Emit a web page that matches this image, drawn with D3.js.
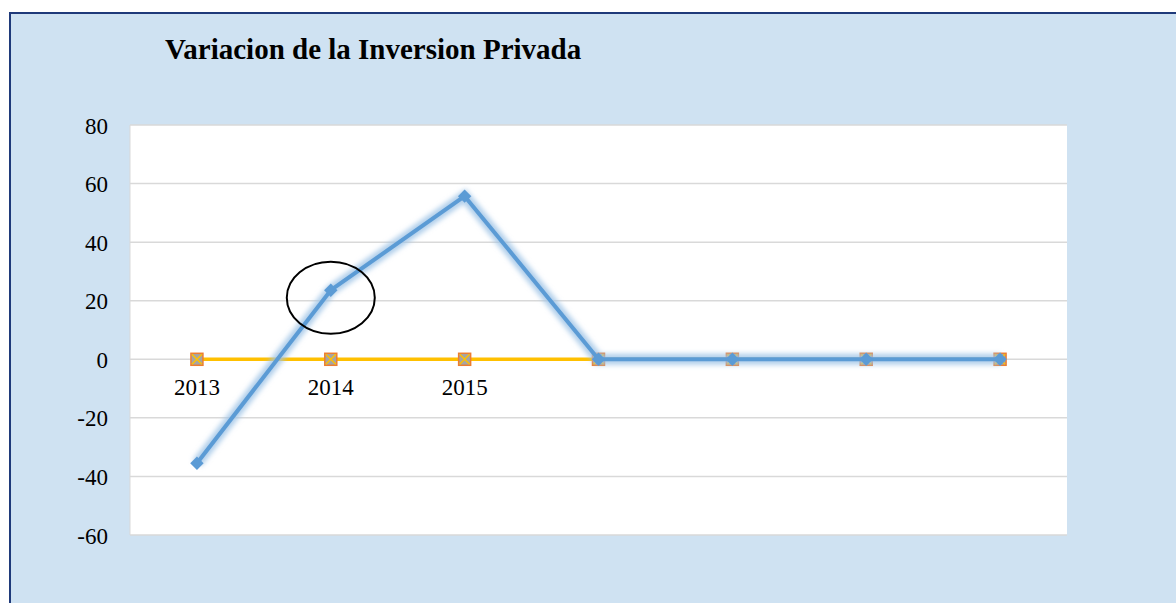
<!DOCTYPE html>
<html><head><meta charset="utf-8">
<script src="https://cdn.jsdelivr.net/npm/d3@7"></script>
<style>html,body{margin:0;padding:0;background:#fff;overflow:hidden}</style>
</head><body>
<svg id="c" width="1176" height="603"></svg>
<script>
const categories = ["2013","2014","2015","","","",""];
const variacion = [-35.5, 23.6, 55.7, 0, 0, 0, 0];
const serie2 = [0, 0, 0, 0, 0, 0, 0];
const serie3 = [0, 0, 0, 0, 0, 0, 0];
const yTicks = [80, 60, 40, 20, 0, -20, -40, -60];
const title = "Variacion de la Inversion Privada";

const svg = d3.select("#c");
const defs = svg.append("defs");
const f = defs.append("filter").attr("id","glow").attr("x","-20%").attr("y","-20%").attr("width","140%").attr("height","140%");
f.append("feGaussianBlur").attr("stdDeviation", 2.5);

const serif = "'Liberation Serif','Times New Roman',serif";

// frame
svg.append("rect").attr("x",10).attr("y",13).attr("width",1180).attr("height",600)
  .attr("fill","#CFE2F2").attr("stroke","#1F3A7A").attr("stroke-width",2);

const L = 130, R = 1067, T = 125, B = 535;
const x = d3.scaleBand().domain(d3.range(categories.length)).range([L, R]);
const y = d3.scaleLinear().domain([-60, 80]).range([B, T]);
const cx = i => x(i) + x.bandwidth() / 2;

svg.append("rect").attr("x",L).attr("y",T).attr("width",R-L).attr("height",B-T).attr("fill","#fff");

// gridlines
svg.append("g").selectAll("line").data(yTicks).join("line")
  .attr("x1",L).attr("x2",R).attr("y1",d=>y(d)).attr("y2",d=>y(d))
  .attr("stroke","#D9D9D9").attr("stroke-width",1.5);
svg.append("line").attr("x1",L).attr("x2",L).attr("y1",T).attr("y2",B).attr("stroke","#D9D9D9").attr("stroke-width",1);

// y axis labels
const yAxis = d3.axisLeft(y).tickValues(yTicks).tickSize(0).tickPadding(0).tickFormat(d => String(d));
const ya = svg.append("g").attr("transform",`translate(108,0)`).call(yAxis).attr("font-family",serif);
ya.select(".domain").remove();
ya.selectAll("text").style("font-family",serif).attr("font-size",23).attr("fill","#000").attr("dy","0.35em");

// x category labels at zero
svg.append("g").selectAll("text").data(categories).join("text")
  .attr("x",(d,i)=>cx(i)).attr("y",y(0)+36).attr("text-anchor","middle")
  .style("font-family",serif).attr("font-size",23).attr("fill","#000")
  .text(d=>d);

const line = d3.line().x((d,i)=>cx(i)).y(d=>y(d));

// serie3 (yellow line)
svg.append("path").datum(serie3).attr("d",line).attr("fill","none").attr("stroke","#FFC000").attr("stroke-width",3.5);
// serie2 markers (orange squares with gray x)
const m2 = svg.append("g").selectAll("g").data(serie2).join("g").attr("transform",(d,i)=>`translate(${cx(i)},${y(d)})`);
m2.append("rect").attr("x",-6).attr("y",-6).attr("width",12).attr("height",12).attr("fill","#A5A5A5").attr("stroke","#ED7D31").attr("stroke-width",1.5);
m2.append("path").attr("d","M-5,-5L5,5M-5,5L5,-5").attr("stroke","#FFC000").attr("stroke-width",1.5);

// main series glow + line
svg.append("path").datum(variacion).attr("d",line).attr("fill","none").attr("stroke","#9DC3E6").attr("stroke-width",11).attr("stroke-opacity",0.8).attr("filter","url(#glow)");
svg.append("path").datum(variacion).attr("d",line).attr("fill","none").attr("stroke","#5B9BD5").attr("stroke-width",4).attr("stroke-linejoin","round");
svg.append("g").selectAll("path").data(variacion).join("path")
  .attr("d",d3.symbol(d3.symbolSquare,90)())
  .attr("transform",(d,i)=>`translate(${cx(i)},${y(d)}) rotate(45)`)
  .attr("fill","#5B9BD5");

// ellipse annotation
svg.append("ellipse").attr("cx",cx(1)).attr("cy",y(20)-3).attr("rx",44).attr("ry",36)
  .attr("fill","none").attr("stroke","#000").attr("stroke-width",2);

// title
svg.append("text").attr("x",165).attr("y",59).style("font-family",serif)
  .attr("font-weight","bold").attr("font-size",29).attr("fill","#000").text(title);
</script>
</body></html>
